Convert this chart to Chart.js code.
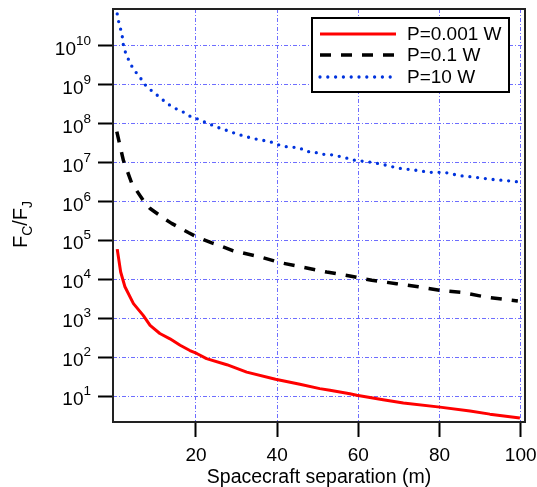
<!DOCTYPE html>
<html><head><meta charset="utf-8">
<script src="https://cdn.jsdelivr.net/npm/chart.js@4.4.0/dist/chart.umd.min.js"></script>
<style>html,body{margin:0;padding:0;background:#fff;}#wrap{width:537px;height:487px;}</style>
</head><body><div id="wrap"><canvas id="c" width="537" height="487"></canvas></div>
<script>
const FONT = "'Liberation Sans', Arial, Helvetica, sans-serif";
const seriesLabels = ['P=0.001 W', 'P=0.1 W', 'P=10 W'];

const xRed = [0.6, 1.45, 2.5, 4.6, 7.0, 8.7, 11.1, 13.6, 16.1, 18.5, 20.2, 22.6, 27.6, 32.5, 39.6, 45.6, 50.5, 53, 57.9, 59.6, 66.1, 71.1, 80.1, 87.5, 92.4, 99.8];
const yRed = [6.0e4, 1.55e4, 6.5e3, 2.4e3, 1.2e3, 660, 410, 300, 205, 150, 126, 93, 65, 42, 27.5, 20.4, 15.8, 14.3, 11.7, 10.7, 8.2, 6.8, 5.3, 4.2, 3.5, 2.8];

const xBlack = [0.5, 2.1, 4.2, 7.0, 8.7, 12.4, 14.0, 18.1, 20.2, 23.9, 25.1, 29.2, 35.8, 40.7, 46.4, 52.2, 57.9, 63.3, 69.4, 74.8, 80.5, 85.8, 91.6, 99.3];
const yBlack = [6.2e7, 1.15e7, 2.9e6, 1.07e6, 6.6e5, 3.5e5, 2.75e5, 1.6e5, 1.23e5, 8.7e4, 7.9e4, 5.4e4, 3.8e4, 2.7e4, 2.05e4, 1.55e4, 1.23e4, 9.5e3, 7.8e3, 6.5e3, 5.2e3, 4.6e3, 3.5e3, 2.8e3];

const xBlue = [0.6, 1.0, 1.5, 1.9, 2.1, 2.7, 3.5, 4.6, 6.0, 7.4, 9.1, 11.1, 13.0, 15.1, 16.6, 18.5, 20.6, 22.5, 24.5, 26.5, 28.0, 30.0, 31.8, 33.9, 35.8, 37.7, 39.5, 41.4, 43.3, 45.4, 47.3, 48.9, 51, 52.8, 54.8, 56.9, 58.9, 62.4, 66.1, 70.1, 73.5, 77.5, 81.3, 85, 88.7, 92.8, 96.9, 99.4];
const yBlue = [6.5e10, 3.9e10, 2.5e10, 1.6e10, 1.05e10, 6.3e9, 4.1e9, 2.45e9, 1.66e9, 1.0e9, 6.9e8, 4.7e8, 3.2e8, 2.4e8, 2.05e8, 1.55e8, 1.29e8, 1.05e8, 8.7e7, 7.2e7, 6.5e7, 5.4e7, 4.8e7, 4.2e7, 3.8e7, 3.55e7, 3.1e7, 2.6e7, 2.5e7, 2.4e7, 1.9e7, 1.9e7, 1.62e7, 1.62e7, 1.48e7, 1.32e7, 1.15e7, 1.05e7, 8.9e6, 7.1e6, 6.5e6, 5.6e6, 5.6e6, 4.6e6, 4.2e6, 3.7e6, 3.4e6, 3.2e6];

const xTickValues = [20, 40, 60, 80, 100];
const yTickExponents = [1, 2, 3, 4, 5, 6, 7, 8, 9, 10];
const xTitle = 'Spacecraft separation (m)';
const yTitleParts = [['F', false], ['C', true], ['/', false], ['F', false], ['J', true]];

const pts = (xs, ys) => xs.map((x, i) => ({x: x, y: ys[i]}));

const styles = [
  {color: '#ff0000', width: 3, dash: [], cap: 'butt'},
  {color: '#000000', width: 3.5, dash: [11, 10], cap: 'butt'},
  {color: '#0033dd', width: 3.3, dash: [0, 7.8], cap: 'round'}
];

const frameAndDecor = {
  id: 'frameAndDecor',
  afterDatasetsDraw(chart) {
    const ctx = chart.ctx, a = chart.chartArea;
    ctx.save();
    ctx.strokeStyle = '#222';
    ctx.lineWidth = 2;
    ctx.setLineDash([]);
    ctx.strokeRect(a.left, a.top, a.right - a.left, a.bottom - a.top);
    // legend
    const lx = 312, ly = 18, lw = 197, lh = 74;
    ctx.fillStyle = '#fff';
    ctx.fillRect(lx, ly, lw, lh);
    ctx.strokeStyle = '#000';
    ctx.strokeRect(lx, ly, lw, lh);
    const rows = [34, 55, 77];
    chart.data.datasets.forEach((ds, i) => {
      const s = styles[i];
      ctx.beginPath();
      ctx.strokeStyle = s.color;
      ctx.lineWidth = s.width;
      ctx.lineCap = s.cap;
      ctx.setLineDash(s.dash);
      ctx.moveTo(320, rows[i]);
      ctx.lineTo(396, rows[i]);
      ctx.stroke();
      ctx.setLineDash([]);
      ctx.fillStyle = '#000';
      ctx.font = '19px ' + FONT;
      ctx.textAlign = 'left';
      ctx.textBaseline = 'middle';
      ctx.fillText(ds.label, 407, rows[i] + 1);
    });
    ctx.restore();
  },
  afterDraw(chart) {
    const ctx = chart.ctx, a = chart.chartArea;
    const ys = chart.scales.y;
    ctx.save();
    ctx.fillStyle = '#000';
    // y tick labels 10^n
    yTickExponents.forEach(e => {
      const py = ys.getPixelForValue(Math.pow(10, e));
      ctx.font = '13.5px ' + FONT;
      const ew = ctx.measureText(String(e)).width;
      const right = 91;
      ctx.textAlign = 'left';
      ctx.textBaseline = 'alphabetic';
      ctx.fillText(String(e), right - ew, py - 1);
      ctx.font = '19px ' + FONT;
      ctx.textAlign = 'right';
      ctx.fillText('10', right - ew, py + 9);
    });
    // y title
    ctx.translate(27, (a.top + a.bottom) / 2 + 9);
    ctx.rotate(-Math.PI / 2);
    let total = 0;
    const big = '20px ' + FONT, small = '14px ' + FONT;
    yTitleParts.forEach(p => { ctx.font = p[1] ? small : big; total += ctx.measureText(p[0]).width; });
    let x = -total / 2;
    ctx.textAlign = 'left';
    ctx.textBaseline = 'alphabetic';
    yTitleParts.forEach(p => {
      ctx.font = p[1] ? small : big;
      ctx.fillText(p[0], x, p[1] ? 5 : 0);
      x += ctx.measureText(p[0]).width;
    });
    ctx.restore();
  }
};

new Chart(document.getElementById('c'), {
  type: 'line',
  data: {
    datasets: [
      {label: seriesLabels[0], data: pts(xRed, yRed)},
      {label: seriesLabels[1], data: pts(xBlack, yBlack)},
      {label: seriesLabels[2], data: pts(xBlue, yBlue)}
    ].map((d, i) => Object.assign(d, {
      borderColor: styles[i].color,
      borderWidth: styles[i].width,
      borderDash: styles[i].dash,
      borderCapStyle: styles[i].cap,
      borderJoinStyle: 'round',
      pointRadius: 0,
      tension: 0,
      fill: false
    }))
  },
  options: {
    responsive: false,
    animation: false,
    devicePixelRatio: 1,
    layout: {padding: {left: 0, right: 12, top: 9, bottom: 0}},
    plugins: {legend: {display: false}, tooltip: {enabled: false}},
    scales: {
      x: {
        type: 'linear',
        min: -0.44,
        max: 101.06,
        afterBuildTicks: s => { s.ticks = xTickValues.map(v => ({value: v})); },
        afterFit: s => { s.height = 65; s.paddingLeft = 0; s.paddingRight = 0; },
        grid: {color: '#6e6eff', lineWidth: 1, drawTicks: true, tickLength: 15, tickColor: '#000', tickWidth: 2, tickBorderDash: []},
        border: {display: false, dash: [4, 2, 1, 2]},
        ticks: {color: '#000', font: {family: FONT, size: 19}, padding: 7, maxRotation: 0, autoSkip: false},
        title: {display: true, text: xTitle, color: '#000', font: {family: FONT, size: 19.5, lineHeight: 0.95}, padding: {top: 0, bottom: 0}}
      },
      y: {
        type: 'logarithmic',
        min: 2.2,
        max: 8.7e10,
        afterBuildTicks: s => { s.ticks = yTickExponents.map(e => ({value: Math.pow(10, e), major: true})); },
        afterFit: s => { s.width = 113; s.paddingTop = 0; s.paddingBottom = 0; },
        grid: {color: '#6e6eff', lineWidth: 1, drawTicks: true, tickLength: 15, tickColor: '#000', tickWidth: 2, tickBorderDash: []},
        border: {display: false, dash: [4, 2, 1, 2]},
        ticks: {display: false}
      }
    }
  },
  plugins: [frameAndDecor]
});
</script>
</body></html>
